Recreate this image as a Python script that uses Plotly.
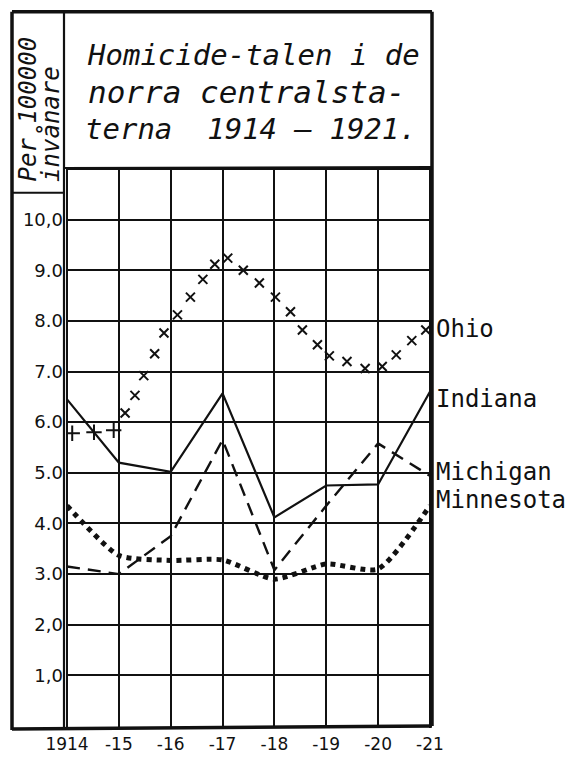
import plotly.graph_objects as go

# Data
years = [1914, 1915, 1916, 1917, 1918, 1919, 1920, 1921]
year_labels = ["1914", "-15", "-16", "-17", "-18", "-19", "-20", "-21"]

indiana = [6.45, 5.2, 5.02, 6.57, 4.12, 4.75, 4.77, 6.6]
michigan = [3.15, 3.0, 3.75, 5.65, 3.08, 4.35, 5.58, 4.94]
minnesota = [4.35, 3.37, 3.27, 3.28, 2.9, 3.2, 3.1, 4.35]

# Ohio is drawn as a row of marks: "+" for 1914-15, "x" afterwards
ohio_plus_x = [1914.1, 1914.52, 1914.9]
ohio_plus_y = [5.78, 5.8, 5.84]
ohio_x_x = [1915.12, 1915.31, 1915.48, 1915.69, 1915.87, 1916.13, 1916.38, 1916.62,
            1916.85, 1917.1, 1917.4, 1917.71, 1918.02, 1918.31, 1918.54, 1918.83,
            1919.06, 1919.4, 1919.75, 1920.08, 1920.35, 1920.65, 1920.92]
ohio_x_y = [6.18, 6.53, 6.92, 7.35, 7.76, 8.12, 8.47, 8.82,
            9.12, 9.24, 9.0, 8.75, 8.47, 8.18, 7.82, 7.53,
            7.31, 7.2, 7.06, 7.1, 7.33, 7.61, 7.82]

y_ticks = [1, 2, 3, 4, 5, 6, 7, 8, 9, 10, 11]
y_tick_labels = ["1,0", "2,0", "3.0", "4.0", "5.0", "6.0", "7.0", "8.0", "9.0", "10,0", ""]

series_names = ["Ohio", "Indiana", "Michigan", "Minnesota"]

# page body margin pushes the figure by 8px, so work in page pixels and shift
OFF = 8
W, H = 575, 758
X0, X1 = 66, 432   # plot area, page pixels
Y0, Y1 = 168, 731


def px(x):
    return (x - X0) / (X1 - X0)


def py(y):
    return (Y1 - y) / (Y1 - Y0)


ink = "#111111"
hand_font = "DejaVu Sans"
letter_font = "DejaVu Sans Mono"

fig = go.Figure()

fig.add_trace(go.Scatter(
    x=years, y=indiana, mode="lines", name="Indiana",
    line=dict(color=ink, width=2.2)
))
fig.add_trace(go.Scatter(
    x=years, y=michigan, mode="lines", name="Michigan",
    line=dict(color=ink, width=2.4, dash="13px,8px")
))
fig.add_trace(go.Scatter(
    x=years, y=minnesota, mode="lines", name="Minnesota",
    line=dict(color=ink, width=5, dash="5px,5px", shape="spline", smoothing=0.6)
))
fig.add_trace(go.Scatter(
    x=ohio_plus_x, y=ohio_plus_y, mode="markers", name="Ohio",
    marker=dict(symbol="cross-thin", size=11, line=dict(color=ink, width=2))
))
fig.add_trace(go.Scatter(
    x=ohio_x_x, y=ohio_x_y, mode="markers", name="Ohio",
    marker=dict(symbol="x-thin", size=9, line=dict(color=ink, width=2))
))

# Frame and header boxes (page pixels)
frame = [
    (12, 11, 432, 11, 3.5), (12, 11, 12, 733, 3.5), (432, 11, 432, 729, 3.5),
    (12, 732, 432, 729, 3.5), (64, 11, 64, 733, 2.2),
    (64, 168, 432, 167, 2.2), (13, 193, 64, 193, 2),
]
shapes = []
for xa, ya, xb, yb, w in frame:
    shapes.append(dict(
        type="line", xref="paper", yref="paper",
        x0=px(xa), y0=py(ya), x1=px(xb), y1=py(yb),
        line=dict(color=ink, width=w)
    ))

annotations = []
title_lines = [
    ("Homicide-talen i de", 85, 54, 29),
    ("norra centralsta-", 86, 92, 31),
    ("terna  1914 – 1921.", 83, 129, 29),
]
for text, x, y, size in title_lines:
    annotations.append(dict(
        text=text, xref="paper", yref="paper", x=px(x), y=py(y),
        xanchor="left", yanchor="middle", showarrow=False,
        font=dict(family=letter_font, size=size, color=ink, style="italic")
    ))

for text, x, size in [("Per 100000", 28, 24), ("invånare", 51, 24)]:
    annotations.append(dict(
        text=text, xref="paper", yref="paper", x=px(x), y=py(184),
        xanchor="center", yanchor="bottom", textangle=-90, showarrow=False,
        font=dict(family=letter_font, size=size, color=ink, style="italic")
    ))

label_pos = [330, 400, 474, 502]
for name, y in zip(series_names, label_pos):
    annotations.append(dict(
        text=name, xref="paper", yref="paper", x=px(434), y=py(y),
        xanchor="left", yanchor="middle", showarrow=False,
        font=dict(family=letter_font, size=24, color=ink)
    ))

fig.update_layout(
    width=W, height=H,
    margin=dict(l=X0 - OFF, r=W - (X1 - OFF), t=Y0 - OFF, b=H - (Y1 - OFF)),
    paper_bgcolor="white", plot_bgcolor="white",
    showlegend=False,
    xaxis=dict(
        range=[1913.98, 1921.04], tickvals=years, ticktext=year_labels,
        showgrid=True, gridcolor=ink, gridwidth=1.8, zeroline=False,
        showline=False, ticks="", ticklabelstandoff=4,
        tickfont=dict(family=hand_font, size=17, color=ink)
    ),
    yaxis=dict(
        range=[-0.04, 11.02], tickvals=y_ticks, ticktext=y_tick_labels,
        showgrid=True, gridcolor=ink, gridwidth=1.8, zeroline=False,
        showline=False, ticks="", ticklabelstandoff=2,
        tickfont=dict(family=hand_font, size=18, color=ink)
    ),
    shapes=shapes,
    annotations=annotations,
)

fig.write_html("out.html")
